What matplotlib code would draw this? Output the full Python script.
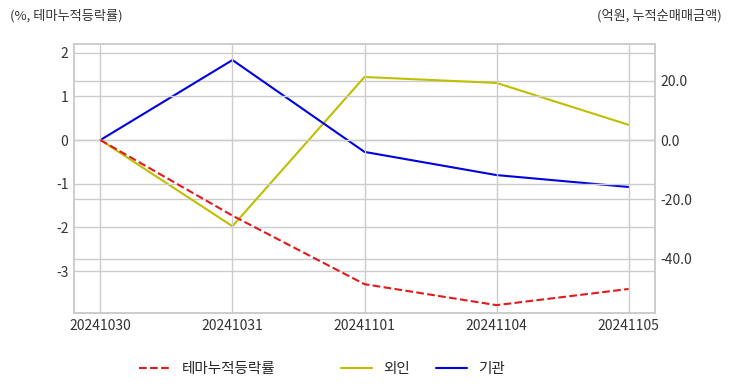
import matplotlib
matplotlib.use('Agg')
import numpy as np
import seaborn as sns
from matplotlib import pyplot as plt

dates = ['20241030', '20241031', '20241101', '20241104', '20241105']
theme_rate = [0.0, -1.73, -3.30, -3.78, -3.41]
foreign = [0.0, -29.0, 21.2, 19.2, 5.1]
institution = [0.0, 26.9, -4.0, -11.8, -15.8]

sns.set_style('whitegrid')
plt.rcParams['font.family'] = ['Noto Sans CJK KR', 'DejaVu Sans']
plt.rcParams['axes.unicode_minus'] = False

fig = plt.figure(figsize=(7.32, 3.92), dpi=100)
ax = fig.add_axes([74 / 732, 1 - 313 / 392, 581 / 732, 269 / 392])
ax2 = ax.twinx()

x = np.arange(len(dates))
l1, = ax.plot(x, theme_rate, color='#e31a1c', linestyle='--', linewidth=1.5, label='테마누적등락률')
l2, = ax2.plot(x, foreign, color='#bfbf00', linewidth=1.5, label='외인')
l3, = ax2.plot(x, institution, color='#0000e0', linewidth=1.5, label='기관')

ax.set_xlim(-0.2, 4.2)
ax.set_ylim(-3.96, 2.2)
ax2.set_ylim(-58.2, 32.3)
ax.set_xticks(x)
ax.set_xticklabels(dates)
ax.set_yticks([-3, -2, -1, 0, 1, 2])
ax2.set_yticks([-40, -20, 0, 20])
ax2.set_yticklabels(['-40.0', '-20.0', '0.0', '20.0'])

for a in (ax, ax2):
    a.grid(True, color='#cccccc', linewidth=1)
    a.tick_params(labelsize=10, colors='#333333', length=0, pad=4)
    for s in a.spines.values():
        s.set_color('#cccccc')
        s.set_linewidth(1.2)
ax2.grid(axis='x', visible=False)
ax.set_zorder(ax2.get_zorder() + 1)
ax.patch.set_visible(False)

fig.text(10 / 732, 1 - 16 / 392, '(%, 테마누적등락률)', fontsize=9.5, color='#333333', va='center', ha='left')
fig.text(722 / 732, 1 - 16 / 392, '(억원, 누적순매매금액)', fontsize=9.5, color='#333333', va='center', ha='right')

# one legend per entry so the uneven spacing of the original can be kept
for handle, left in zip([l1, l2, l3], [139, 341, 436]):
    fig.legend(handles=[handle], loc='center left', bbox_to_anchor=(left / 732, 1 - 369 / 392),
               frameon=False, fontsize=10.5, handlelength=2.1, handletextpad=0.8,
               borderpad=0, borderaxespad=0)

plt.savefig('out.png', dpi=100)
plt.close()
